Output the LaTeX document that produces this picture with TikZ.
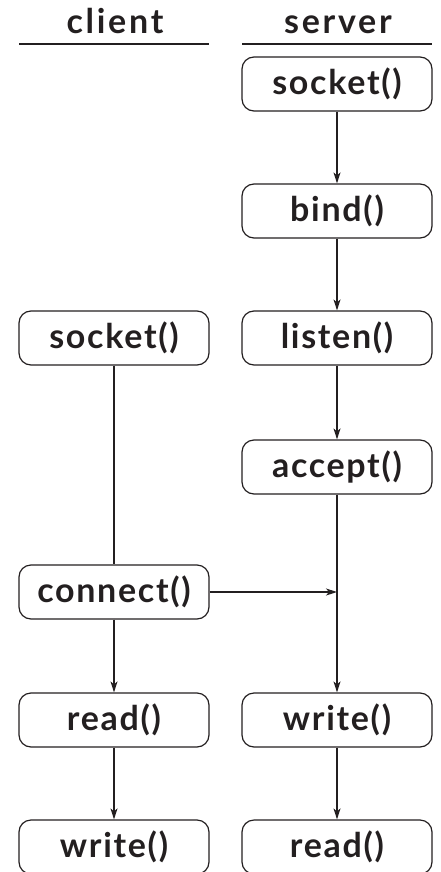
\documentclass[tikz,border=0pt]{standalone}
\usepackage{fontspec}
\setmainfont{Lato}
\usetikzlibrary{arrows.meta}
\definecolor{ink}{HTML}{231F20}
\newfontfamily\boxfont[LetterSpace=5]{Lato}
\newfontfamily\headfont[LetterSpace=8]{Lato}
\tikzset{
  x=1pt, y=-1pt,
  fn/.style={draw=ink, line width=1.2pt, rounded corners=12pt, minimum width=190pt, minimum height=54pt, inner sep=0pt, text=ink, font=\boxfont\fontsize{34}{34}\selectfont\bfseries},
  hd/.style={text=ink, font=\headfont\fontsize{34}{34}\selectfont\bfseries, inner sep=0pt},
  hline/.style={draw=ink, line width=1.8pt},
  conn/.style={draw=ink, line width=1.2pt},
  arr/.style={conn, -{Stealth[length=11pt, width=7pt, inset=3pt]}}
}
\begin{document}
\begin{tikzpicture}
\useasboundingbox (0,0) rectangle (440,872);
% headers
\node[hd, anchor=base] (hc) at (115,34) {client};
\node[hd, anchor=base] (hs) at (338,34) {server};
\coordinate (lc1) at (19,44); \coordinate (lc2) at (209,44);
\coordinate (ls1) at (242,44); \coordinate (ls2) at (432,44);
\draw[hline] (lc1) -- (lc2);
\draw[hline] (ls1) -- (ls2);
% server
\node[fn] (ssock) at (337,84) {socket()};
\node[fn] (sbind) at (337,211) {bind()};
\node[fn] (slist) at (337,338) {listen()};
\node[fn] (sacc) at (337,467) {accept()};
\node[fn] (swrite) at (337,720) {write()};
\node[fn] (sread) at (337,847) {read()};
% client
\node[fn] (csock) at (114,338) {socket()};
\node[fn] (cconn) at (114,592) {connect()};
\node[fn] (cread) at (114,720) {read()};
\node[fn] (cwrite) at (114,847) {write()};
% connectors
\draw[arr] (ssock) -- (sbind);
\draw[arr] (sbind) -- (slist);
\draw[arr] (slist) -- (sacc);
\draw[arr] (sacc) -- (swrite);
\draw[conn] (csock) -- (cconn);
\draw[arr] (cconn) -- (cread);
\draw[arr] (cread) -- (cwrite);
\draw[arr] (swrite) -- (sread);
\coordinate (meet) at (sacc.south |- cconn.east);
\draw[arr] (cconn.east) -- (meet);
\end{tikzpicture}
\end{document}
